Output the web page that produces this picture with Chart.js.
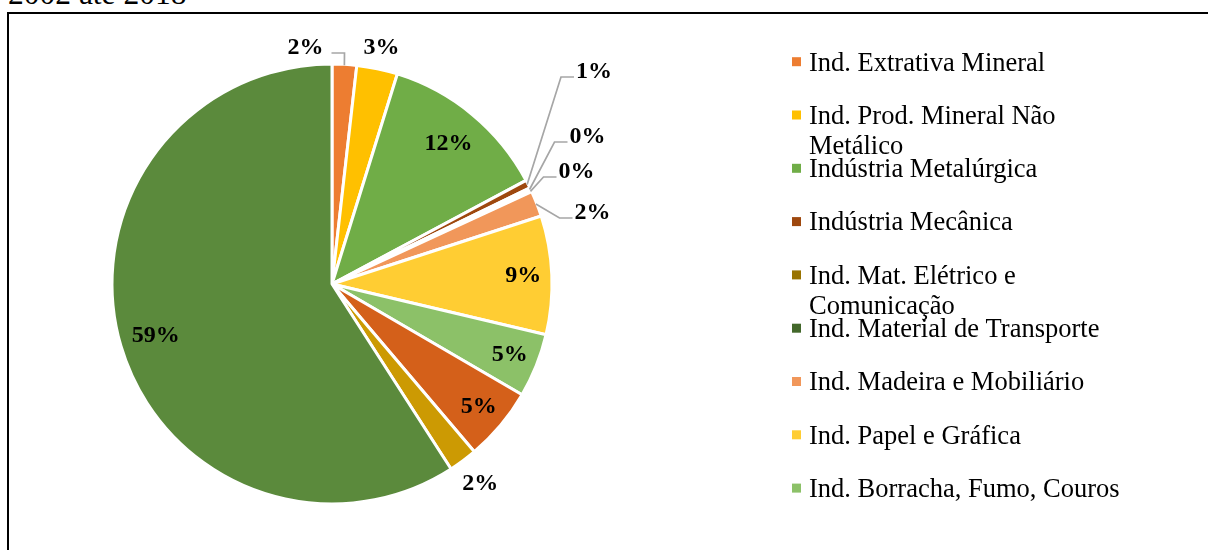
<!DOCTYPE html>
<html><head><meta charset="utf-8">
<script src="https://cdn.jsdelivr.net/npm/chart.js@4.4.1/dist/chart.umd.min.js"></script>
<style>
html,body{margin:0;padding:0;width:1208px;height:550px;overflow:hidden;background:#fff;}
#title{position:absolute;left:8px;top:-22px;font:31.5px/1 "Liberation Serif","Times New Roman",serif;color:#000;white-space:nowrap;}
#frame{position:absolute;left:7px;top:12px;width:1400px;height:800px;border:2px solid #000;box-sizing:border-box;}
#wrap{position:absolute;left:0;top:0;width:1208px;height:550px;}
</style></head><body>
<div id="title">2002 até 2018</div>
<div id="frame"></div>
<div id="wrap"><canvas id="c" width="1208" height="550"></canvas></div>
<script>
// ---- data ----
const categories = [
  "Ind. Extrativa Mineral",
  "Ind. Prod. Mineral Não Metálico",
  "Indústria Metalúrgica",
  "Indústria Mecânica",
  "Ind. Mat. Elétrico e Comunicação",
  "Ind. Material de Transporte",
  "Ind. Madeira e Mobiliário",
  "Ind. Papel e Gráfica",
  "Ind. Borracha, Fumo, Couros",
  "Ind. Química",
  "Ind. Têxtil",
  "Ind. Alimentos e Bebidas"
];
const shares = [1.8, 3.0, 12.4, 0.6, 0.2, 0.1, 1.9, 8.7, 4.7, 5.4, 2.1, 59.1];
const sliceColors = ["#ED7D31","#FFC000","#70AD47","#9E480E","#997300","#43682B",
                     "#F1975A","#FFCD33","#8CC168","#D4601A","#CC9A03","#5B8A3C"];
const legendShownCount = 9; // the source legend is truncated after nine entries

// ---- label placement (layout, not data) ----
const labelPlacement = [
  {mode:"leader", dx:-26.5, dy:-236},
  {mode:"out", d:21},
  {mode:"in", r:0.83},
  {mode:"leader", dx:262, dy:-212},
  {mode:"leader", dx:255.5, dy:-147},
  {mode:"leader", dx:244.5, dy:-112},
  {mode:"leader", dx:260.5, dy:-71},
  {mode:"in", r:0.87},
  {mode:"in", r:0.87},
  {mode:"in", r:0.87},
  {mode:"out", d:29},
  {mode:"in", r:0.835}
];
const legendLayout = {boxX:792, box:9, textX:809, top:61.7, step:53.3, lineH:30, maxW:330,
  font:'26.5px "Liberation Serif", "Times New Roman", serif'};

const sliceLabels = {
  id:"sliceLabels",
  afterDatasetsDraw(chart){
    const ctx = chart.ctx;
    const meta = chart.getDatasetMeta(0);
    ctx.save();
    ctx.font = 'bold 24px "Liberation Serif", "Times New Roman", serif';
    ctx.textAlign = "center";
    ctx.textBaseline = "middle";
    meta.data.forEach((arc, i) => {
      const p = labelPlacement[i];
      const {x, y, startAngle, endAngle, outerRadius} =
        arc.getProps(["x","y","startAngle","endAngle","outerRadius"], true);
      const mid = (startAngle + endAngle) / 2;
      const text = Math.round(shares[i]) + "%";
      let lx, ly;
      if (p.mode === "in") {
        lx = x + Math.cos(mid) * outerRadius * p.r;
        ly = y + Math.sin(mid) * outerRadius * p.r;
      } else if (p.mode === "out") {
        lx = x + Math.cos(mid) * (outerRadius + p.d);
        ly = y + Math.sin(mid) * (outerRadius + p.d);
      } else {
        lx = x + p.dx; ly = y + p.dy;
        const ax = x + Math.cos(mid) * (outerRadius - 1);
        const ay = y + Math.sin(mid) * (outerRadius - 1);
        const w = ctx.measureText(text).width;
        const right = lx > ax;
        const edge = right ? lx - w / 2 - 2 : lx + w / 2 + 8;
        const ex = right ? edge - 13 : edge + 13;
        const ey = ly + 5;
        ctx.beginPath();
        ctx.moveTo(ax, ay); ctx.lineTo(ex, ey); ctx.lineTo(edge, ey);
        ctx.strokeStyle = "#A6A6A6"; ctx.lineWidth = 1.7;
        ctx.stroke();
      }
      ctx.fillStyle = "#000";
      ctx.fillText(text, lx, ly);
    });
    ctx.restore();
  }
};

const sideLegend = {
  id:"sideLegend",
  afterDraw(chart){
    const ctx = chart.ctx, L = legendLayout;
    ctx.save();
    ctx.font = L.font;
    ctx.textAlign = "left";
    ctx.textBaseline = "alphabetic";
    for (let i = 0; i < legendShownCount; i++) {
      const cy = L.top + L.step * i;
      ctx.fillStyle = sliceColors[i];
      ctx.fillRect(L.boxX, cy - L.box / 2, L.box, L.box);
      const words = categories[i].split(" ");
      const lines = []; let cur = "";
      words.forEach(wd => {
        const t = cur ? cur + " " + wd : wd;
        if (ctx.measureText(t).width > L.maxW && cur) { lines.push(cur); cur = wd; }
        else cur = t;
      });
      lines.push(cur);
      ctx.fillStyle = "#000";
      lines.forEach((ln, k) => ctx.fillText(ln, L.textX, cy + 8.8 + k * L.lineH));
    }
    ctx.restore();
  }
};

new Chart(document.getElementById("c"), {
  type: "pie",
  data: {
    labels: categories,
    datasets: [{
      data: shares,
      backgroundColor: sliceColors,
      borderColor: "#ffffff",
      borderWidth: 3,
      radius: 220
    }]
  },
  options: {
    responsive: false,
    animation: false,
    layout: {padding: {left: 0, right: 544, top: 18, bottom: 0}},
    plugins: {legend: {display: false}, tooltip: {enabled: false}, title: {display: false}}
  },
  plugins: [sliceLabels, sideLegend]
});
</script>
</body></html>
